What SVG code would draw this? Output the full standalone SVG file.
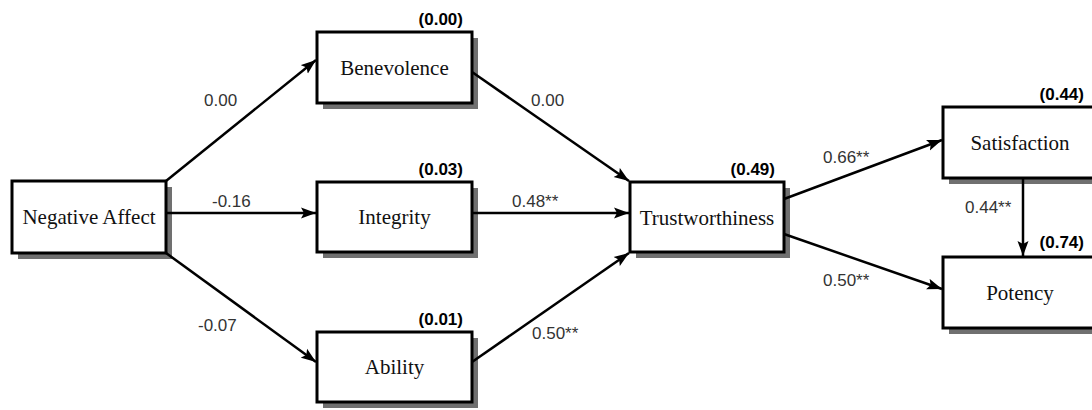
<svg xmlns="http://www.w3.org/2000/svg" width="1092" height="410" viewBox="0 0 1092 410">
<style>
.sh{fill:#707070}
.bx{fill:#fff;stroke:#000;stroke-width:3}
.nt{font-family:"Liberation Serif",serif;font-size:21px;fill:#111;text-anchor:middle}
.r2{font-family:"Liberation Sans",Arial,sans-serif;font-size:17px;font-weight:bold;fill:#000;text-anchor:end}
.el{font-family:"Liberation Sans",Arial,sans-serif;font-size:17px;fill:#333}
.ln{stroke:#000;stroke-width:2.5;fill:none;marker-end:url(#ah)}
</style>
<defs>
<marker id="ah" markerUnits="userSpaceOnUse" markerWidth="16" markerHeight="12" refX="15" refY="6" orient="auto">
<path d="M0,0.5 L15,6 L0,11.5 L3,6 z" fill="#000"/>
</marker>
</defs>
<rect width="1092" height="410" fill="#fff"/>
<g id="negative-affect">
<rect class="sh" x="18" y="187" width="154" height="72"/>
<rect class="bx" x="12" y="181" width="154" height="72"/>
<text class="nt" x="89" y="224">Negative Affect</text>
</g>
<g id="benevolence">
<rect class="sh" x="323" y="38" width="155" height="71"/>
<rect class="bx" x="317" y="32" width="155" height="71"/>
<text class="nt" x="394.500" y="75">Benevolence</text>
<text class="r2" x="463" y="25">(0.00)</text>
</g>
<g id="integrity">
<rect class="sh" x="323" y="188" width="155" height="70"/>
<rect class="bx" x="317" y="182" width="155" height="70"/>
<text class="nt" x="394.500" y="224">Integrity</text>
<text class="r2" x="463" y="175">(0.03)</text>
</g>
<g id="ability">
<rect class="sh" x="323" y="338" width="155" height="70"/>
<rect class="bx" x="317" y="332" width="155" height="70"/>
<text class="nt" x="394.500" y="374">Ability</text>
<text class="r2" x="463" y="325">(0.01)</text>
</g>
<g id="trustworthiness">
<rect class="sh" x="636" y="188" width="154" height="70"/>
<rect class="bx" x="630" y="182" width="154" height="70"/>
<text class="nt" x="707" y="225">Trustworthiness</text>
<text class="r2" x="775" y="175">(0.49)</text>
</g>
<g id="satisfaction">
<rect class="sh" x="949" y="113" width="155" height="71"/>
<rect class="bx" x="943" y="107" width="155" height="71"/>
<text class="nt" x="1020" y="150">Satisfaction</text>
<text class="r2" x="1084" y="100">(0.44)</text>
</g>
<g id="potency">
<rect class="sh" x="949" y="263" width="155" height="71"/>
<rect class="bx" x="943" y="257" width="155" height="71"/>
<text class="nt" x="1020" y="300">Potency</text>
<text class="r2" x="1084" y="248">(0.74)</text>
</g>
<g id="connectors">
<line class="ln" x1="166" y1="181" x2="316" y2="60"/>
<line class="ln" x1="166" y1="213" x2="316" y2="213"/>
<line class="ln" x1="166" y1="253" x2="316" y2="362"/>
<line class="ln" x1="472" y1="72" x2="629" y2="181"/>
<line class="ln" x1="472" y1="213" x2="629" y2="213"/>
<line class="ln" x1="472" y1="362" x2="629" y2="253"/>
<line class="ln" x1="784" y1="199" x2="942" y2="140"/>
<line class="ln" x1="784" y1="234" x2="942" y2="289"/>
<line class="ln" x1="1023" y1="178" x2="1023" y2="256"/>
<text class="el" x="204" y="106">0.00</text>
<text class="el" x="531" y="106">0.00</text>
<text class="el" x="212" y="207">-0.16</text>
<text class="el" x="512" y="207">0.48**</text>
<text class="el" x="198" y="331">-0.07</text>
<text class="el" x="532" y="339">0.50**</text>
<text class="el" x="823" y="163">0.66**</text>
<text class="el" x="823" y="286">0.50**</text>
<text class="el" x="965" y="213">0.44**</text>
</g>
</svg>
